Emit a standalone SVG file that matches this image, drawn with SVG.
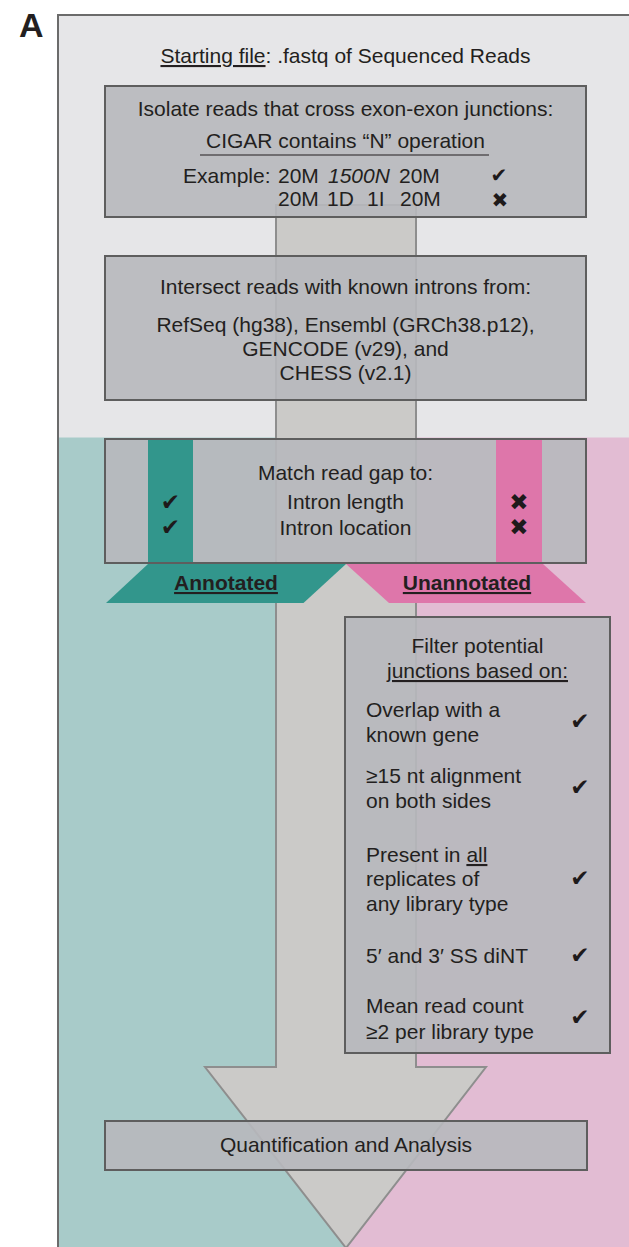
<svg xmlns="http://www.w3.org/2000/svg" width="629" height="1247" viewBox="0 0 629 1247">
<style>
.t{font-family:"Liberation Sans",Arial,sans-serif;font-size:21px;fill:#231f20}
.c{text-anchor:middle}
.b{font-weight:bold}
.sym{font-family:"DejaVu Sans",sans-serif;font-size:23px;fill:#1e1a1b;text-anchor:middle}
.sm{font-size:20px}
.box{fill:#b7b8bc;fill-opacity:0.9;stroke:#5e5e5e;stroke-width:2}
.u{text-decoration:underline}
</style>
<rect x="58" y="15" width="620" height="1260" fill="#e6e6e8"/>
<rect x="59" y="437.5" width="287" height="810" fill="#a8cbc9"/>
<rect x="346" y="437.5" width="283" height="810" fill="#e2bcd3"/>
<rect x="58" y="15" width="620" height="1260" fill="none" stroke="#6b6b6b" stroke-width="2"/>
<text x="19" y="37" class="t b" style="font-size:34px">A</text>
<g id="connectors">
<polygon points="276,205 416,205 416,1067 486,1067 346,1248 205,1067 276,1067" fill="#cbcac8" stroke="#8e8e8e" stroke-width="2"/>
</g>
<g id="start">
<text x="345.5" y="63" class="t c"><tspan class="u">Starting file</tspan>: .fastq of Sequenced Reads</text>
</g>
<g id="isolate">
<rect x="105" y="86" width="481" height="131" class="box"/>
<text x="345.5" y="116" class="t c">Isolate reads that cross exon-exon junctions:</text>
<text x="345.5" y="148" class="t c">CIGAR contains “N” operation</text>
<line x1="200" y1="155" x2="489" y2="155" stroke="#231f20" stroke-width="1.2"/>
<text x="183" y="183" class="t">Example:</text>
<text x="278" y="183" class="t">20M</text>
<text x="328" y="183" class="t" font-style="italic">1500N</text>
<text x="399" y="183" class="t">20M</text>
<text x="499" y="182" class="sym sm">✔</text>
<text x="278" y="206" class="t">20M</text>
<text x="327" y="206" class="t">1D</text>
<text x="367" y="206" class="t">1I</text>
<text x="400" y="206" class="t">20M</text>
<text x="500" y="207" class="sym sm">✖</text>
</g>
<g id="intersect">
<rect x="105" y="256" width="481" height="144" class="box"/>
<text x="345.5" y="294" class="t c">Intersect reads with known introns from:</text>
<text x="345.5" y="332" class="t c">RefSeq (hg38), Ensembl (GRCh38.p12),</text>
<text x="345.5" y="356" class="t c">GENCODE (v29), and</text>
<text x="345.5" y="380" class="t c">CHESS (v2.1)</text>
</g>
<g id="annotated">
<polygon points="148,564 346,564 303.5,603 106,603" fill="#32968c"/>
<text x="226" y="590" class="t c b"><tspan class="u">Annotated</tspan></text>
</g>
<g id="unannotated">
<polygon points="346,564 543,564 586,603 389,603" fill="#de76aa"/>
<text x="467" y="590" class="t c b"><tspan class="u">Unannotated</tspan></text>
</g>
<g id="match">
<rect x="105" y="439" width="481" height="124" fill="#b7b8bc" fill-opacity="0.9"/>
<rect x="148" y="439" width="45" height="124" fill="#32968c"/>
<rect x="496" y="439" width="46" height="124" fill="#de76aa"/>
<rect x="105" y="439" width="481" height="124" fill="none" stroke="#5e5e5e" stroke-width="2"/>
<text x="345.5" y="480" class="t c">Match read gap to:</text>
<text x="345.5" y="509" class="t c">Intron length</text>
<text x="345.5" y="535" class="t c">Intron location</text>
<text x="170.5" y="510" class="sym">✔</text>
<text x="170.5" y="535" class="sym">✔</text>
<text x="519" y="510" class="sym">✖</text>
<text x="519" y="535" class="sym">✖</text>
</g>
<g id="filter">
<rect x="345" y="617" width="265" height="436" class="box"/>
<text x="477.5" y="653" class="t c">Filter potential</text>
<text x="477.5" y="678" class="t c"><tspan class="u">junctions based on:</tspan></text>
<text x="366" y="717" class="t">Overlap with a</text>
<text x="366" y="742" class="t">known gene</text>
<text x="580" y="729" class="sym">✔</text>
<text x="366" y="783" class="t">≥15 nt alignment</text>
<text x="366" y="808" class="t">on both sides</text>
<text x="580" y="795" class="sym">✔</text>
<text x="366" y="862" class="t">Present in <tspan class="u">all</tspan></text>
<text x="366" y="886" class="t">replicates of</text>
<text x="366" y="911" class="t">any library type</text>
<text x="580" y="886" class="sym">✔</text>
<text x="366" y="963" class="t">5′ and 3′ SS diNT</text>
<text x="580" y="963" class="sym">✔</text>
<text x="366" y="1013" class="t">Mean read count</text>
<text x="366" y="1039" class="t">≥2 per library type</text>
<text x="580" y="1025" class="sym">✔</text>
</g>
<g id="quant">
<rect x="105" y="1121" width="482" height="49" class="box"/>
<text x="346" y="1152" class="t c">Quantification and Analysis</text>
</g>
</svg>
